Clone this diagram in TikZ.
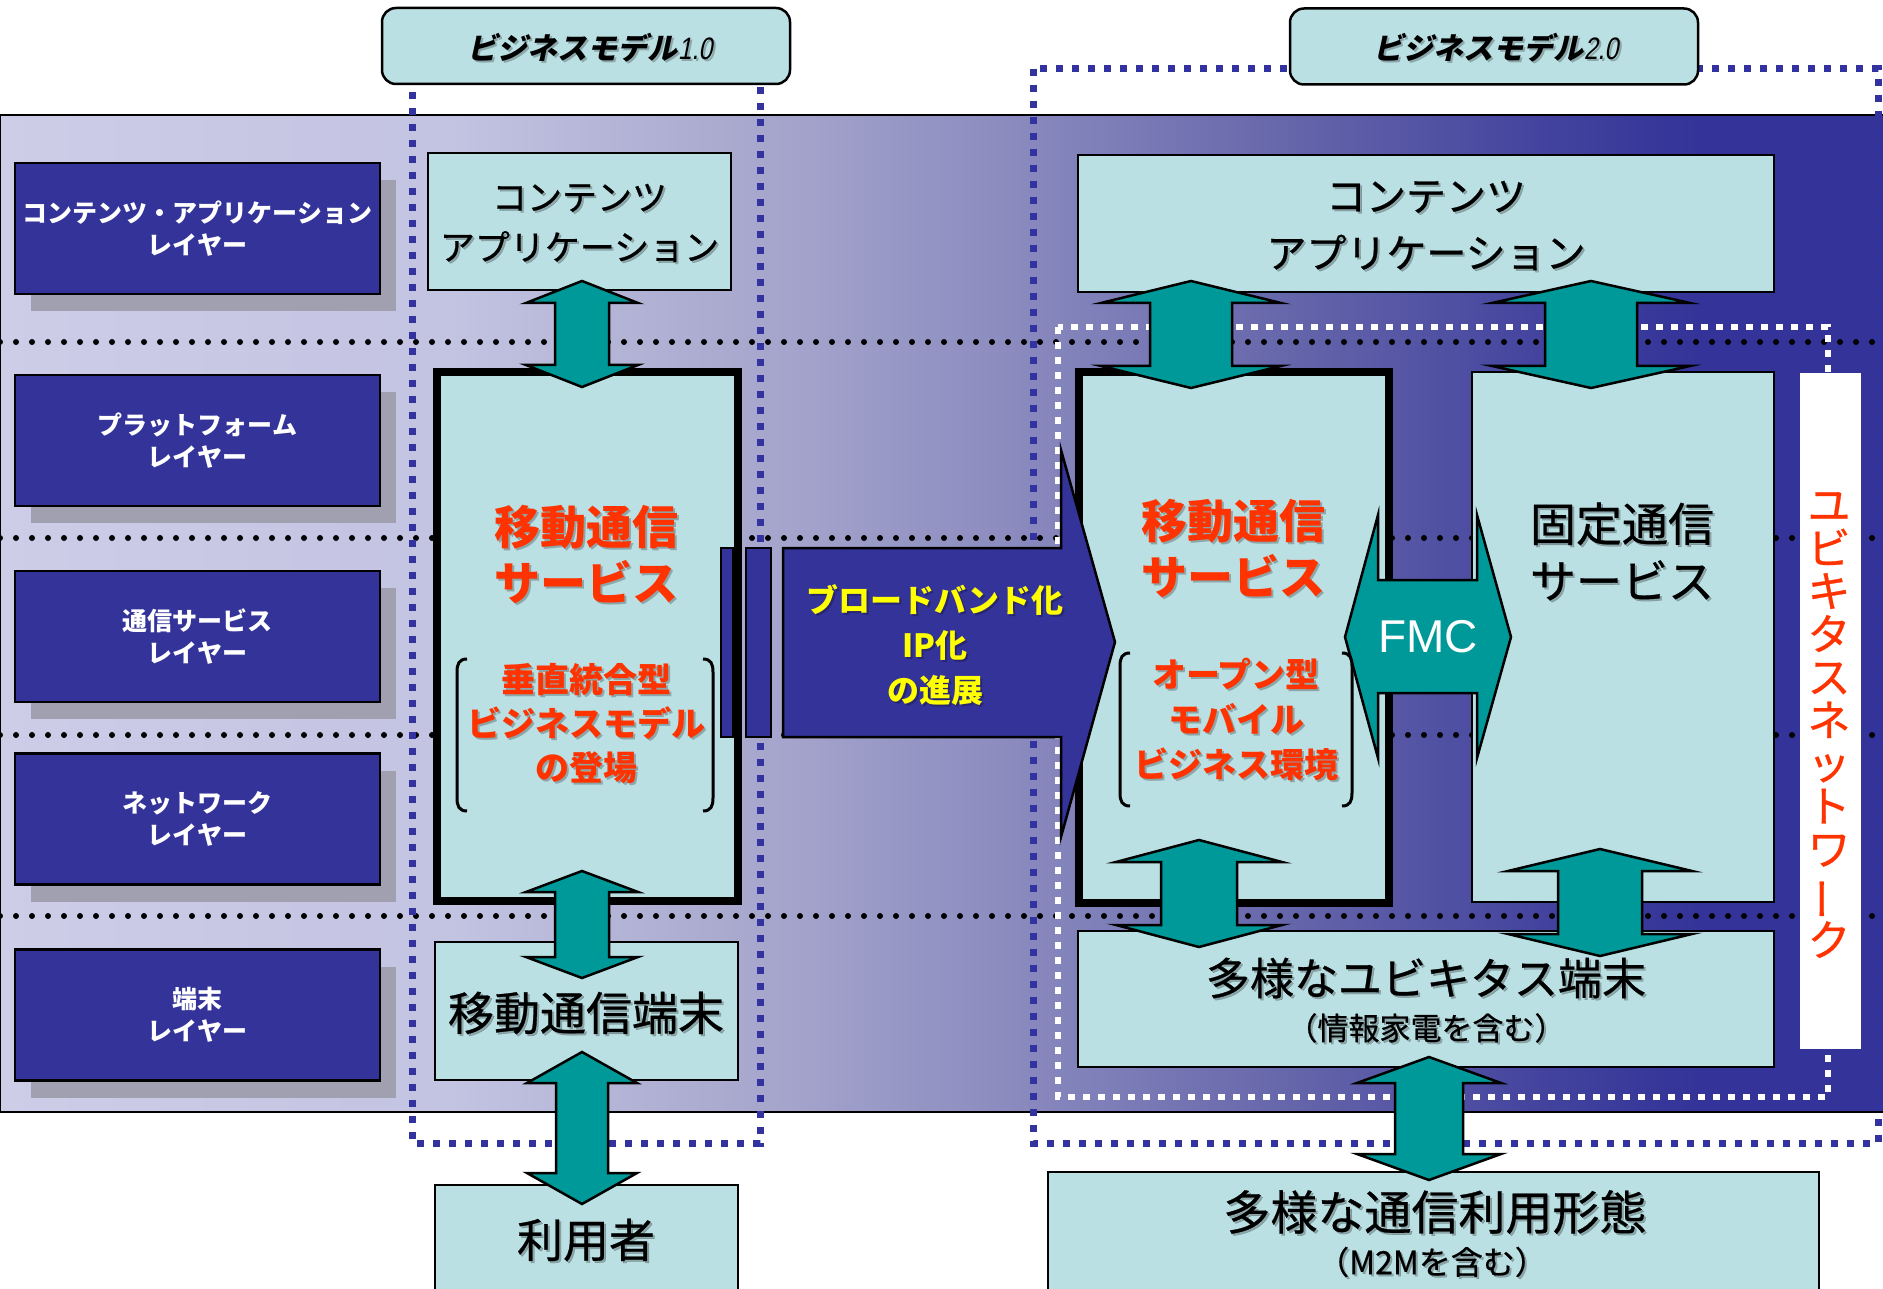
\documentclass[tikz,border=0pt]{standalone}
\usepackage{fontspec}
\newfontfamily\jp{Noto Sans CJK JP}
\newfontfamily\jpm[FakeBold=0.6]{Noto Sans CJK JP}
\newfontfamily\jpsl[FakeSlant=0.22]{Noto Sans CJK JP}
\newfontfamily\arial{Liberation Sans}
\newfontfamily\arialsl[FakeSlant=0.2,FakeStretch=0.8]{Liberation Sans}
\usetikzlibrary{shadows}
\definecolor{navy}{RGB}{51,51,153}
\definecolor{dashblue}{RGB}{51,51,160}
\definecolor{boxfill}{RGB}{187,224,227}
\definecolor{tealarr}{RGB}{0,153,153}
\definecolor{redtxt}{RGB}{255,51,0}
\definecolor{yeltxt}{RGB}{255,255,0}
\definecolor{shadowg}{RGB}{160,160,176}
\pgfdeclarehorizontalshading{bgshade}{100bp}{rgb(0bp)=(0.804,0.804,0.910); rgb(25bp)=(0.804,0.804,0.910); rgb(36.9bp)=(0.765,0.765,0.886); rgb(44.9bp)=(0.659,0.659,0.808); rgb(51.6bp)=(0.549,0.549,0.753); rgb(59.5bp)=(0.392,0.392,0.667); rgb(66.2bp)=(0.259,0.259,0.620); rgb(70.1bp)=(0.2,0.2,0.6); rgb(75bp)=(0.2,0.2,0.6); rgb(100bp)=(0.2,0.2,0.6)}
\newcommand{\vdarr}[6]{\draw[darr] (#1,#2) -- (#1+#4,#2+#6) -- (#1+#5,#2+#6) -- (#1+#5,#3-#6) -- (#1+#4,#3-#6) -- (#1,#3) -- (#1-#4,#3-#6) -- (#1-#5,#3-#6) -- (#1-#5,#2+#6) -- (#1-#4,#2+#6) -- cycle;}
\newcommand{\stxt}[4]{\node[#3, text=black, text opacity=0.25, xshift=2pt, yshift=-2pt] (#1s) at #2 {#4};\node[#3] (#1) at #2 {#4};}
\begin{document}
\begin{tikzpicture}[x=1pt,y=-1pt,
  dotline/.style={line width=6pt, dash pattern=on 0pt off 16pt, line cap=round, black},
  bmdash/.style={line width=7pt, dash pattern=on 7pt off 9pt, dashblue},
  whdash/.style={line width=6pt, dash pattern=on 7pt off 8pt, white},
  lbox/.style={draw=black, line width=2.5pt, fill=navy, minimum width=365pt, minimum height=131pt, inner sep=0pt,
     text=white, align=center, font=\jp\fontsize{25}{32}\selectfont\bfseries,
     drop shadow={shadow xshift=16pt, shadow yshift=-17pt, fill=shadowg, opacity=1}},
  cbox/.style={draw=black, line width=2.5pt, fill=boxfill, inner sep=0pt},
  tbox/.style={draw=black, line width=8pt, fill=boxfill, inner sep=0pt},
  lab/.style={draw=black, line width=2.5pt, fill=boxfill, rounded corners=14pt, inner sep=0pt, minimum width=408pt, minimum height=76pt},
  darr/.style={fill=tealarr, draw=black, line width=2.5pt, line join=miter},
  btxt/.style={align=center, text=black, inner sep=0pt},
  rtxt/.style={align=center, text=redtxt, inner sep=0pt},
  brk/.style={line width=3pt, black}]
\useasboundingbox (0,0) rectangle (1883,1289);
% background
\path[shading=bgshade] (0,115) rectangle (1883,1112);
\draw[line width=2.5pt] (0,115) -- (1883,115) (0,1112) -- (1883,1112) (0,115) -- (0,1112);
% dotted layer separators
\foreach \yy in {342,538,735,916} \draw[dotline] (0,\yy) -- (1883,\yy);
% business model frames
\draw[bmdash] (412,60) rectangle (760,1143);
\draw[bmdash] (1033,69) rectangle (1878,1143);
\draw[whdash] (1058,327) rectangle (1828,1097);
% layer boxes
\node[lbox] (L1) at (197.5,228.5) {コンテンツ・アプリケーション\\レイヤー};
\node[lbox] (L2) at (197.5,440.5) {プラットフォーム\\レイヤー};
\node[lbox] (L3) at (197.5,636.5) {通信サービス\\レイヤー};
\node[lbox] (L4) at (197.5,819) {ネットワーク\\レイヤー};
\node[lbox] (L5) at (197.5,1015) {端末\\レイヤー};
% left column boxes
\node[cbox, minimum width=303pt, minimum height=137pt] (C1) at (579.5,221.5) {};
\node[tbox, minimum width=301pt, minimum height=529pt] (M1) at (587.5,636.5) {};
\node[cbox, minimum width=303pt, minimum height=138pt] (T1) at (586.5,1011) {};
\node[cbox, minimum width=303pt, minimum height=130pt] (U1) at (586.5,1250) {};
% right column boxes
\node[cbox, minimum width=696pt, minimum height=137pt] (C2) at (1426,223.5) {};
\node[tbox, minimum width=310pt, minimum height=531pt] (M2) at (1234,637.5) {};
\node[cbox, minimum width=302pt, minimum height=530pt] (F2) at (1623,637) {};
\node[cbox, minimum width=696pt, minimum height=136pt] (T2) at (1426,999) {};
\node[cbox, minimum width=771pt, minimum height=140pt] (U2) at (1433.5,1242) {};
% ubiquitous network bar
\node[fill=white, inner sep=0pt, minimum width=61pt, minimum height=676pt] (W) at (1830.5,711) {};
% broadband arrow
\draw[fill=navy, draw=black, line width=2pt] (721,548) rectangle (733,737);
\draw[fill=navy, draw=black, line width=2pt] (746,548) rectangle (771,737);
\draw[fill=navy, draw=black, line width=2.5pt, line join=miter] (783,548) -- (1061,548) -- (1061,450) -- (1115,642) -- (1061,837) -- (1061,737) -- (783,737) -- cycle;
% vertical double arrows
\vdarr{582}{281}{387}{56}{27}{22}
\vdarr{582}{871}{978}{56}{27}{21}
\vdarr{582}{1052}{1204}{55}{26}{31}
\vdarr{1191}{281}{388}{90}{41}{22}
\vdarr{1591}{281}{388}{99}{46}{22}
\vdarr{1199}{840}{947}{83}{38}{22}
\vdarr{1600}{849}{956}{92}{42}{22}
\vdarr{1429}{1057}{1180}{72}{34}{26}
% FMC arrow
\draw[darr] (1345,637) -- (1378,515) -- (1378,580) -- (1477,580) -- (1477,515) -- (1511,637) -- (1477,758) -- (1477,693) -- (1378,693) -- (1378,758) -- cycle;
% labels
\node[lab] (B1) at (586,46) {};
\node[lab] (B2) at (1494,46.5) {};
\stxt{B1t}{(590,48)}{btxt}{{\jpsl\fontsize{30}{36}\selectfont\bfseries ビジネスモデル}{\arialsl\fontsize{31}{36}\selectfont 1.0}}
\stxt{B2t}{(1496,48)}{btxt}{{\jpsl\fontsize{30}{36}\selectfont\bfseries ビジネスモデル}{\arialsl\fontsize{31}{36}\selectfont 2.0}}
% texts left
\stxt{C1t}{(579.5,223)}{btxt, font=\jpm\fontsize{35}{50}\selectfont}{コンテンツ\\アプリケーション}
\stxt{M1t}{(586,555)}{rtxt, font=\jp\fontsize{46}{56}\selectfont\bfseries}{移動通信\\サービス}
\stxt{M1s}{(586,724)}{rtxt, font=\jp\fontsize{34}{44}\selectfont\bfseries}{垂直統合型\\ビジネスモデル\\の登場}
\draw[brk] (467,659) .. controls (459,659) and (457,664) .. (457,672) -- (457,798) .. controls (457,806) and (459,811) .. (467,811);
\draw[brk] (703,659) .. controls (711,659) and (713,664) .. (713,672) -- (713,798) .. controls (713,806) and (711,811) .. (703,811);
\stxt{T1t}{(586,1013)}{btxt, font=\jpm\fontsize{46}{56}\selectfont}{移動通信端末}
\stxt{U1t}{(586,1240)}{btxt, font=\jpm\fontsize{46}{56}\selectfont}{利用者}
% broadband text
\stxt{BBt}{(935,645)}{align=center, text=yeltxt, inner sep=0pt, font=\jp\fontsize{32}{45}\selectfont\bfseries}{ブロードバンド化\\IP化\\の進展}
% texts right
\stxt{C2t}{(1426,225.5)}{btxt, font=\jpm\fontsize{40}{57}\selectfont}{コンテンツ\\アプリケーション}
\stxt{M2t}{(1233,549)}{rtxt, font=\jp\fontsize{46}{56}\selectfont\bfseries}{移動通信\\サービス}
\stxt{M2s}{(1236,719)}{rtxt, font=\jp\fontsize{34}{45}\selectfont\bfseries}{オープン型\\モバイル\\ビジネス環境}
\draw[brk] (1130,653) .. controls (1122,653) and (1120,658) .. (1120,666) -- (1120,793) .. controls (1120,801) and (1122,806) .. (1130,806);
\draw[brk] (1342,653) .. controls (1350,653) and (1352,658) .. (1352,666) -- (1352,793) .. controls (1352,801) and (1350,806) .. (1342,806);
\stxt{F2t}{(1622,551.5)}{btxt, font=\jpm\fontsize{46}{57}\selectfont}{固定通信\\サービス}
\node[text=white, inner sep=0pt, font=\arial\fontsize{46}{50}\selectfont] (FMCt) at (1428,637) {FMC};
\stxt{T2t}{(1426,978)}{btxt, font=\jpm\fontsize{44}{50}\selectfont}{多様なユビキタス端末}
\stxt{T2s}{(1426,1028)}{btxt, font=\jpm\fontsize{31}{36}\selectfont}{（情報家電を含む）}
\stxt{U2t}{(1435,1212)}{btxt, font=\jpm\fontsize{47}{52}\selectfont}{多様な通信利用形態}
\stxt{U2s}{(1432,1262)}{btxt, font=\jpm\fontsize{32}{36}\selectfont}{（M2Mを含む）}
\node[rtxt, font=\jpm\fontsize{43}{43}\selectfont] (Wt) at (1829,725) {ユ\\ビ\\キ\\タ\\ス\\ネ\\ッ\\ト\\ワ\\\rotatebox[origin=c]{90}{ー}\\ク};
\end{tikzpicture}
\end{document}
